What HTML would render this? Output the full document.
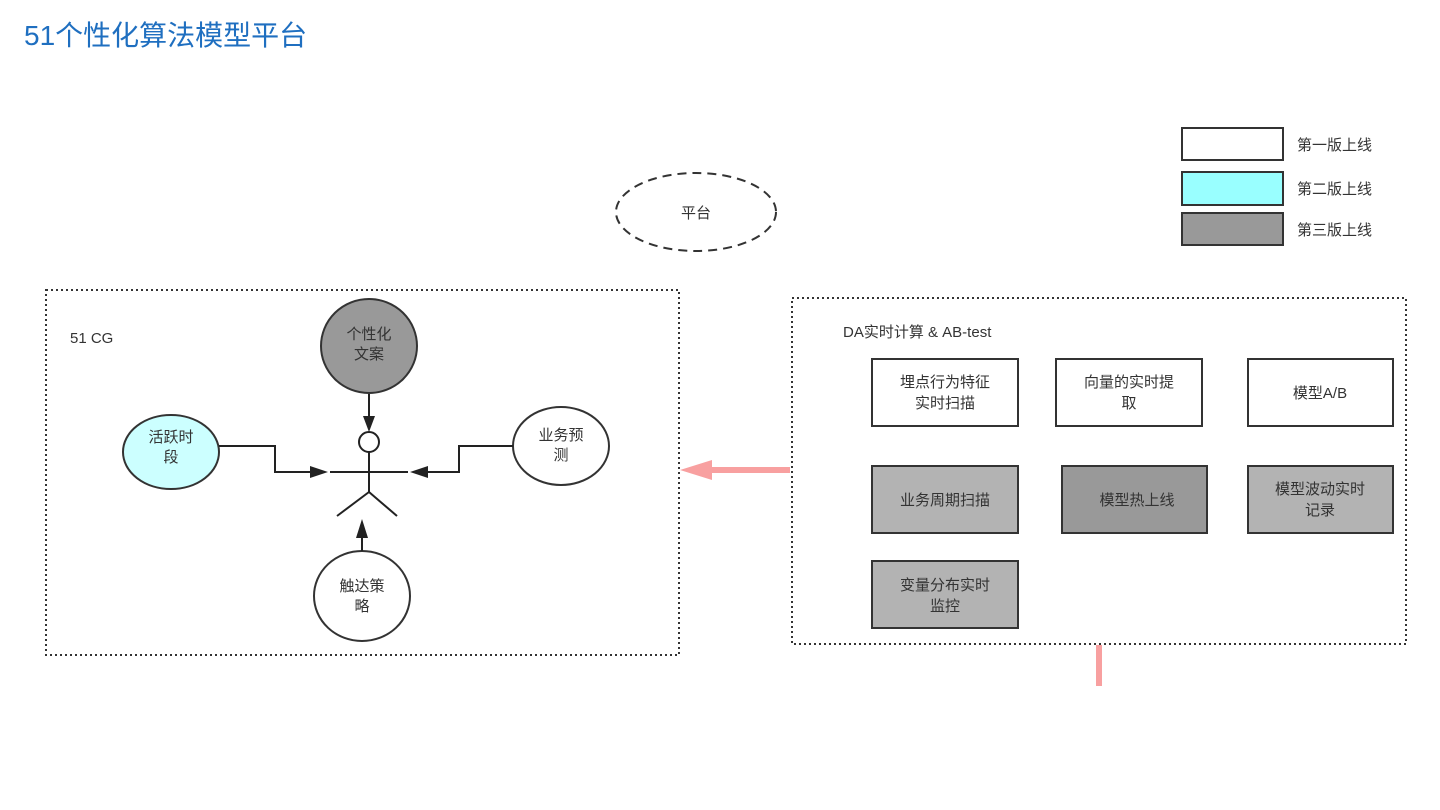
<!DOCTYPE html>
<html><head><meta charset="utf-8"><style>
html,body{margin:0;padding:0;background:#fff;}
body{width:1440px;height:810px;overflow:hidden;position:relative;font-family:"Liberation Sans","Noto Sans CJK SC",sans-serif;}
.t{position:absolute;left:24px;top:14px;font-size:28px;color:#1f6fc0;}
</style></head><body>
<div class="t">51个性化算法模型平台</div>
<svg width="1440" height="810" style="position:absolute;left:0;top:0" font-family="Liberation Sans, Noto Sans CJK SC, sans-serif" font-size="15" fill="#333">
<defs>
<marker id="a" markerWidth="10" markerHeight="10" refX="9" refY="5" orient="auto" markerUnits="userSpaceOnUse"><path d="M0,0 L10,5 L0,10 z" fill="#222" transform="scale(1.6) translate(-4,-2)"/></marker>
</defs>
<!-- legend -->
<rect x="1182" y="128" width="101" height="32" fill="#fff" stroke="#333" stroke-width="2"/>
<rect x="1182" y="172" width="101" height="33" fill="#99ffff" stroke="#333" stroke-width="2"/>
<rect x="1182" y="213" width="101" height="32" fill="#999" stroke="#333" stroke-width="2"/>
<text x="1297" y="150">第一版上线</text>
<text x="1297" y="194">第二版上线</text>
<text x="1297" y="235">第三版上线</text>
<!-- ellipse -->
<ellipse cx="696" cy="212" rx="80" ry="39" fill="none" stroke="#333" stroke-width="2" stroke-dasharray="9,6"/>
<text x="696" y="218" text-anchor="middle">平台</text>
<!-- left container -->
<rect x="46" y="290" width="633" height="365" fill="none" stroke="#333" stroke-width="2" stroke-dasharray="2,3"/>
<text x="70" y="343">51 CG</text>
<ellipse cx="369" cy="346" rx="48" ry="47" fill="#999" stroke="#333" stroke-width="2"/>
<text x="369" y="339" text-anchor="middle">个性化</text><text x="369" y="359" text-anchor="middle">文案</text>
<ellipse cx="171" cy="452" rx="48" ry="37" fill="#ccffff" stroke="#333" stroke-width="2"/>
<text x="171" y="442" text-anchor="middle">活跃时</text><text x="171" y="462" text-anchor="middle">段</text>
<ellipse cx="561" cy="446" rx="48" ry="39" fill="#fff" stroke="#333" stroke-width="2"/>
<text x="561" y="440" text-anchor="middle">业务预</text><text x="561" y="460" text-anchor="middle">测</text>
<ellipse cx="362" cy="596" rx="48" ry="45" fill="#fff" stroke="#333" stroke-width="2"/>
<text x="362" y="591" text-anchor="middle">触达策</text><text x="362" y="611" text-anchor="middle">略</text>
<!-- actor -->
<g stroke="#222" stroke-width="2" fill="none">
<circle cx="369" cy="442" r="10" fill="#fff"/>
<line x1="369" y1="452" x2="369" y2="492"/>
<line x1="330" y1="472" x2="408" y2="472"/>
<line x1="369" y1="492" x2="337" y2="516"/>
<line x1="369" y1="492" x2="397" y2="516"/>
<line x1="369" y1="394" x2="369" y2="416"/>
<polyline points="219,446 275,446 275,472 310,472"/>
<polyline points="513,446 459,446 459,472 428,472"/>
<line x1="362" y1="551" x2="362" y2="538"/>
</g>
<g fill="#222">
<polygon points="363,416 375,416 369,432"/>
<polygon points="310,466 310,478 328,472"/>
<polygon points="428,466 428,478 410,472"/>
<polygon points="356,538 368,538 362,519"/>
</g>
<!-- right container -->
<rect x="792" y="298" width="614" height="346" fill="none" stroke="#333" stroke-width="2" stroke-dasharray="2,3"/>
<text x="843" y="337">DA实时计算 &amp; AB-test</text>
<g stroke="#333" stroke-width="2">
<rect x="872" y="359" width="146" height="67" fill="#fff"/>
<rect x="1056" y="359" width="146" height="67" fill="#fff"/>
<rect x="1248" y="359" width="145" height="67" fill="#fff"/>
<rect x="872" y="466" width="146" height="67" fill="#b3b3b3"/>
<rect x="1062" y="466" width="145" height="67" fill="#999"/>
<rect x="1248" y="466" width="145" height="67" fill="#b3b3b3"/>
<rect x="872" y="561" width="146" height="67" fill="#b3b3b3"/>
</g>
<text x="945" y="387" text-anchor="middle">埋点行为特征</text><text x="945" y="408" text-anchor="middle">实时扫描</text>
<text x="1129" y="387" text-anchor="middle">向量的实时提</text><text x="1129" y="408" text-anchor="middle">取</text>
<text x="1320" y="398" text-anchor="middle">模型A/B</text>
<text x="945" y="505" text-anchor="middle">业务周期扫描</text>
<text x="1137" y="505" text-anchor="middle">模型热上线</text>
<text x="1320" y="494" text-anchor="middle">模型波动实时</text><text x="1320" y="515" text-anchor="middle">记录</text>
<text x="945" y="590" text-anchor="middle">变量分布实时</text><text x="945" y="611" text-anchor="middle">监控</text>
<!-- pink -->
<line x1="790" y1="470" x2="705" y2="470" stroke="#f8a0a0" stroke-width="6"/>
<polygon points="712,460 712,480 680,470" fill="#f8a0a0"/>
<line x1="1099" y1="645" x2="1099" y2="686" stroke="#f8a0a0" stroke-width="6"/>
</svg>
</body></html>
